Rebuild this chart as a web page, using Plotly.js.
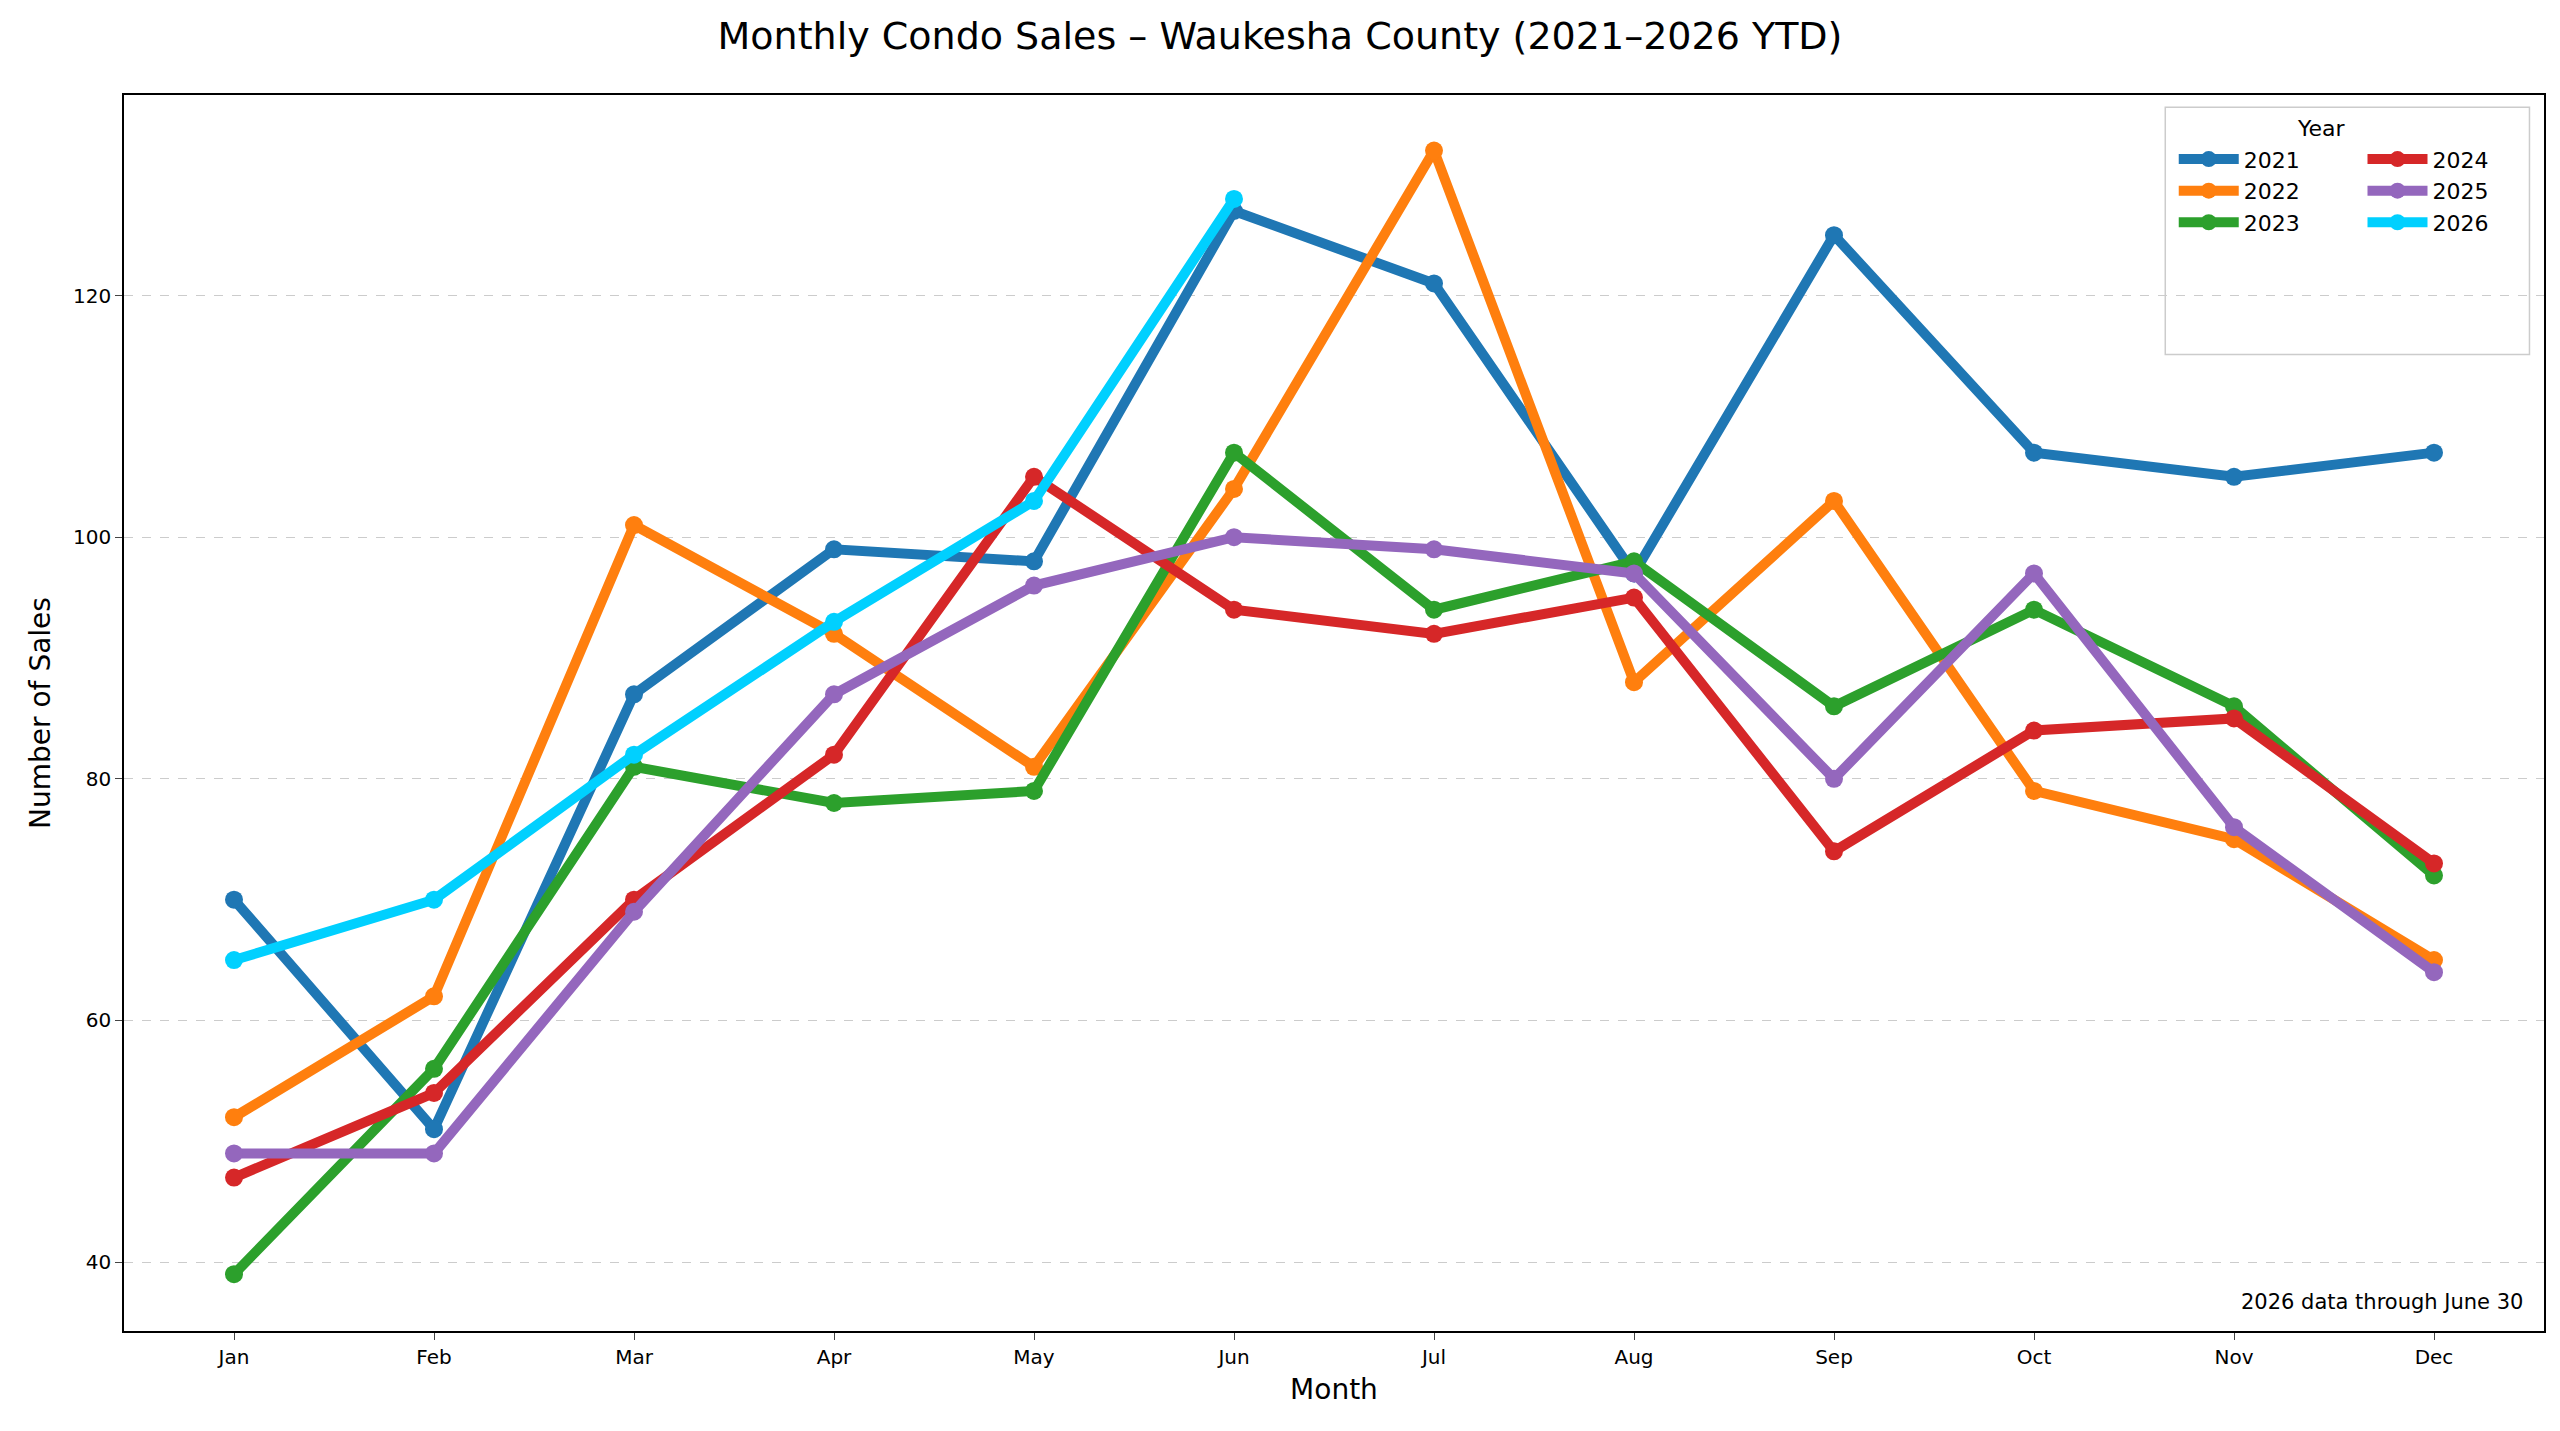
<!DOCTYPE html>
<html><head><meta charset="utf-8">
<script src="https://cdn.plot.ly/plotly-3.0.1.min.js"></script>
<style>html,body{margin:0;padding:0;background:#fff}#chart{width:2560px;height:1431px}</style>
</head><body><div id="chart"></div>
<script>
const months = ['Jan','Feb','Mar','Apr','May','Jun','Jul','Aug','Sep','Oct','Nov','Dec'];
const sales2021 = [70,51,87,99,98,127,121,97,125,107,105,107];
const sales2022 = [52,62,101,92,81,104,132,88,103,79,75,65];
const sales2023 = [39,56,81,78,79,107,94,98,86,94,86,72];
const sales2024 = [47,54,70,82,105,94,92,95,74,84,85,73];
const sales2025 = [49,49,69,87,96,100,99,97,80,97,76,64];
const sales2026 = [65,70,82,93,103,128];

const series = [
  ['2021', sales2021, '#1f77b4', 'legend'],
  ['2022', sales2022, '#ff7f0e', 'legend'],
  ['2023', sales2023, '#2ca02c', 'legend'],
  ['2024', sales2024, '#d62728', 'legend2'],
  ['2025', sales2025, '#9467bd', 'legend2'],
  ['2026', sales2026, '#00d0ff', 'legend2'],
];

const traces = series.map(([name, y, color, lg]) => ({
  x: months.slice(0, y.length), y, name, type: 'scatter', mode: 'lines+markers',
  legend: lg,
  line: { color, width: 10 }, marker: { color, size: 18 },
}));

const legFont = { family: 'DejaVu Sans', size: 22, color: '#000' };
const layout = {
  paper_bgcolor: '#fff', plot_bgcolor: '#fff',
  font: { family: 'DejaVu Sans', color: '#000', size: 20 },
  margin: { l: 124, r: 16, t: 95, b: 100 },
  title: { text: 'Monthly Condo Sales – Waukesha County (2021–2026 YTD)', font: { size: 38 }, x: 0.5, y: 0.975, yanchor: 'middle' },
  xaxis: {
    type: 'category', range: [-0.55, 11.55], showgrid: false,
    showline: true, mirror: true, linecolor: '#000', linewidth: 1.5,
    ticks: 'outside', ticklen: 7, tickfont: { size: 20 },
    title: { text: 'Month', font: { size: 28 }, standoff: 12 },
  },
  yaxis: {
    range: [34.3, 136.6], tickvals: [40, 60, 80, 100, 120],
    showgrid: true, gridcolor: '#cccccc', griddash: 'dash', gridwidth: 1.2,
    showline: true, mirror: true, linecolor: '#000', linewidth: 1.5, zeroline: false,
    ticks: 'outside', ticklen: 7, tickfont: { size: 20 },
    title: { text: 'Number of Sales', font: { size: 28 }, standoff: 14 },
  },
  showlegend: true,
  legend: { x: 0.847, y: 0.965, xanchor: 'left', yanchor: 'top', bgcolor: 'rgba(0,0,0,0)', font: legFont, itemwidth: 60, tracegroupgap: 0 },
  legend2: { x: 0.925, y: 0.965, xanchor: 'left', yanchor: 'top', bgcolor: 'rgba(0,0,0,0)', font: legFont, itemwidth: 60, tracegroupgap: 0 },
  shapes: [{ type: 'rect', xref: 'paper', yref: 'paper', x0: 0.8435, x1: 0.994, y0: 0.79, y1: 0.99,
    line: { color: '#cccccc', width: 1.5 }, fillcolor: 'rgba(255,255,255,0.8)', layer: 'below' }],
  annotations: [
    { text: 'Year', xref: 'paper', yref: 'paper', x: 0.919, y: 0.985, yanchor: 'top', showarrow: false, font: { size: 22 } },
    { text: '2026 data through June 30', xref: 'paper', yref: 'paper', x: 0.992, y: 0.012, xanchor: 'right', yanchor: 'bottom', showarrow: false, font: { size: 21 } },
  ],
};

Plotly.newPlot('chart', traces, layout, { displayModeBar: false });
</script></body></html>
